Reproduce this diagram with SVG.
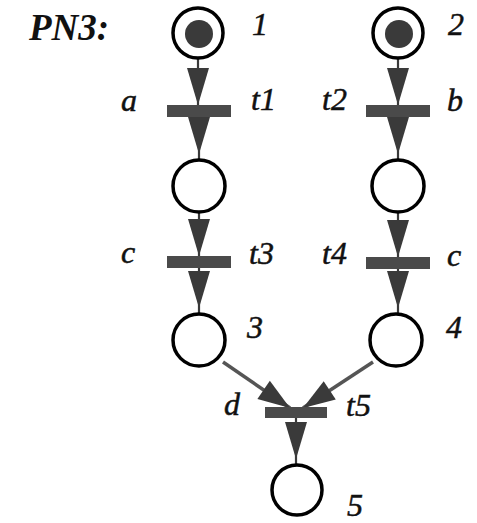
<svg xmlns="http://www.w3.org/2000/svg" width="477" height="523" viewBox="0 0 477 523">
  <style>
    .place { fill: #fff; stroke: #000; stroke-width: 3.5; }
    .token { fill: #3a3a3a; }
    .bar { fill: #4a4a4a; }
    .arc { fill: none; stroke: #3a3a3a; stroke-width: 2.2; }
    .diag { stroke-width: 3.5; stroke: #555; }
    .lbl { font-family: "Liberation Serif", "Times New Roman", serif; font-style: italic; font-size: 32px; fill: #111; stroke: #111; stroke-width: 0.5; }
    .title { font-family: "Liberation Serif", "Times New Roman", serif; font-style: italic; font-weight: bold; font-size: 37px; fill: #111; }
  </style>
  <defs>
    <!-- arrowhead whose tip lands on the end of the arc (into a transition) -->
    <marker id="toT" markerUnits="userSpaceOnUse" markerWidth="37" markerHeight="22" refX="37" refY="11" orient="auto" overflow="visible">
      <path d="M0,0 L37,11 L0,22 Z" fill="#3a3a3a"/>
    </marker>
    <!-- arrowhead that stops a few pixels short of the place outline -->
    <marker id="toP" markerUnits="userSpaceOnUse" markerWidth="37" markerHeight="22" refX="43" refY="11" orient="auto" overflow="visible">
      <path d="M0,0 L37,11 L0,22 Z" fill="#3a3a3a"/>
    </marker>
    <marker id="toTd" markerUnits="userSpaceOnUse" markerWidth="32" markerHeight="22" refX="32" refY="11" orient="auto" overflow="visible">
      <path d="M0,0 L32,11 L0,22 Z" fill="#3a3a3a"/>
    </marker>
  </defs>

  <text class="title" x="29" y="40">PN3:</text>

  <g id="connectors">
    <path class="arc" d="M198,58 L198,105" marker-end="url(#toT)"/>
    <path class="arc" d="M199,117 L199,160" marker-end="url(#toP)"/>
    <path class="arc" d="M199,213 L199,256" marker-end="url(#toT)"/>
    <path class="arc" d="M199,268 L199,314" marker-end="url(#toP)"/>
    <path class="arc" d="M398,58 L398,105" marker-end="url(#toT)"/>
    <path class="arc" d="M398,117 L398,160" marker-end="url(#toP)"/>
    <path class="arc" d="M398,213 L398,257" marker-end="url(#toT)"/>
    <path class="arc" d="M398,268 L398,314" marker-end="url(#toP)"/>
    <path class="arc diag" d="M223,362 L290,408" marker-end="url(#toTd)"/>
    <path class="arc diag" d="M373,362 L303,408" marker-end="url(#toTd)"/>
    <path class="arc" d="M296,418 L296,465" marker-end="url(#toP)"/>
  </g>

  <g id="p1">
    <circle class="place" cx="198" cy="33" r="25"/>
    <circle class="token" cx="199" cy="34" r="14"/>
    <text class="lbl" x="252" y="35">1</text>
  </g>
  <g id="p2">
    <circle class="place" cx="398" cy="33" r="25"/>
    <circle class="token" cx="399" cy="34" r="14"/>
    <text class="lbl" x="448" y="35">2</text>
  </g>
  <g id="t1">
    <rect class="bar" x="167" y="105" width="64" height="12"/>
    <text class="lbl" x="121" y="111">a</text>
    <text class="lbl" x="251" y="110">t1</text>
  </g>
  <g id="t2">
    <rect class="bar" x="366" y="105" width="64" height="12"/>
    <text class="lbl" x="322" y="110">t2</text>
    <text class="lbl" x="447" y="111">b</text>
  </g>
  <g id="pa">
    <circle class="place" cx="199" cy="186" r="26"/>
  </g>
  <g id="pb">
    <circle class="place" cx="398" cy="186" r="26"/>
  </g>
  <g id="t3">
    <rect class="bar" x="167" y="256" width="64" height="12"/>
    <text class="lbl" x="121" y="263">c</text>
    <text class="lbl" x="249" y="264">t3</text>
  </g>
  <g id="t4">
    <rect class="bar" x="366" y="257" width="64" height="12"/>
    <text class="lbl" x="322" y="264">t4</text>
    <text class="lbl" x="447" y="266">c</text>
  </g>
  <g id="p3">
    <circle class="place" cx="199" cy="340" r="26"/>
    <text class="lbl" x="247" y="338">3</text>
  </g>
  <g id="p4">
    <circle class="place" cx="396" cy="340" r="26"/>
    <text class="lbl" x="446" y="338">4</text>
  </g>
  <g id="t5">
    <rect class="bar" x="265" y="407" width="62" height="11"/>
    <text class="lbl" x="224" y="415">d</text>
    <text class="lbl" x="346" y="416">t5</text>
  </g>
  <g id="p5">
    <circle class="place" cx="297" cy="490" r="25"/>
    <text class="lbl" x="347" y="516">5</text>
  </g>
</svg>
